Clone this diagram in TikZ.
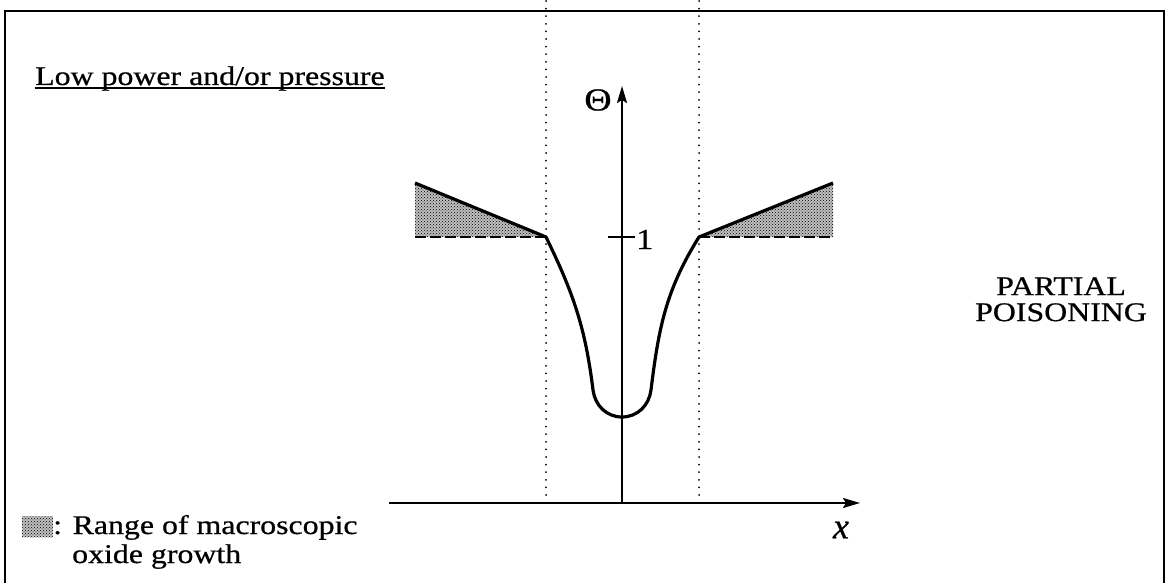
\documentclass[tikz,border=0pt]{standalone}
\usepackage{fontspec}
\usepackage{graphicx}
\setmainfont{Liberation Serif}[FakeBold=0.6]
\usetikzlibrary{arrows.meta,patterns}
\newcommand\hs[1]{\scalebox{1.18}[1]{#1}}
\begin{document}
\begin{tikzpicture}[x=1pt,y=-1pt,
  frameline/.style={line width=2.2pt},
  axisline/.style={line width=2.2pt,-{Stealth[length=17pt,width=10pt,inset=3pt]}},
  curveline/.style={line width=3.2pt,line join=round},
  dotline/.style={line width=2pt,dash pattern=on 0pt off 7.6pt,line cap=round},
  dashline/.style={line width=2.4pt,dash pattern=on 11pt off 4pt},
  hatchbg/.style={fill=black!25},
  hatch/.style={pattern=crosshatch dots,pattern color=black},
  lbl/.style={inner sep=0pt,font=\fontsize{27}{27}\selectfont}
]
\useasboundingbox (0,0) rectangle (1172,583);
% frame
\draw[frameline] (5,583) -- (5,11) -- (1164,11) -- (1164,583);
% coordinates
\coordinate (lt) at (415,183);
\coordinate (lb) at (415,237);
\coordinate (lk) at (546,237);
\coordinate (rk) at (699,237);
\coordinate (rt) at (833,183);
\coordinate (rb) at (833,237);
\coordinate (bot) at (622,417);
% shaded ranges
\fill[hatchbg] (lt) -- (lk) -- (lb) -- cycle;
\fill[hatchbg] (rt) -- (rk) -- (rb) -- cycle;
\fill[hatch] (lt) -- (lk) -- (lb) -- cycle;
\fill[hatch] (rt) -- (rk) -- (rb) -- cycle;
\draw[dashline] (lb) -- (lk);
\draw[dashline] (rk) -- (rb);
% dotted verticals
\coordinate (d1t) at (546,1);
\coordinate (d1b) at (546,497);
\coordinate (d2t) at (699,1);
\coordinate (d2b) at (699,497);
\draw[dotline] (d1t) -- (d1b);
\draw[dotline] (d2t) -- (d2b);
% axes
\coordinate (xa) at (389,503);
\coordinate (xe) at (860,503);
\coordinate (ya) at (622,503);
\coordinate (ye) at (622,86);
\draw[axisline] (xa) -- (xe);
\draw[axisline] (ya) -- (ye);
% tick at 1
\coordinate (t1) at (608,237);
\coordinate (t2) at (635,237);
\draw[line width=2.2pt] (t1) -- (t2);
% curve
\draw[curveline] (lt) -- (lk) to[out=-64,in=97] (593,390) to[out=-83,in=180] (bot)
  to[out=0,in=-97] (651,390) to[out=83,in=-122] (rk) -- (rt);
% labels
\node[lbl,anchor=base west] (low) at (35,85) {\hs{Low power and/or pressure}};
\draw[line width=1.5pt] ([yshift=-3pt]low.base west) -- ([yshift=-3pt]low.base east);
\node[lbl,font=\fontsize{32}{32}\selectfont] (theta) at (598,100) {\hs{Θ}};
\node[lbl,anchor=base west,font=\fontsize{29}{30}\selectfont] (one) at (636,249) {\hs{1}};
\node[lbl,font=\fontsize{36}{38}\selectfont\itshape] (xl) at (841,530) {x};
\node[lbl,anchor=north] (pp) at (1061,276) {\hs{\begin{tabular}{@{}c@{}}PARTIAL\\[-1pt]POISONING\end{tabular}}};
\node[hatchbg,minimum width=31pt,minimum height=21pt,inner sep=0pt,anchor=north west] (swbg) at (22,516) {};
\node[hatch,draw=none,minimum width=31pt,minimum height=21pt,inner sep=0pt,anchor=north west] (sw) at (22,516) {};
\node[lbl,anchor=base west] (rng) at (53,534) {\hs{: Range of macroscopic}};
\node[lbl,anchor=base west] (oxg) at (72,563) {\hs{oxide growth}};
\end{tikzpicture}
\end{document}
